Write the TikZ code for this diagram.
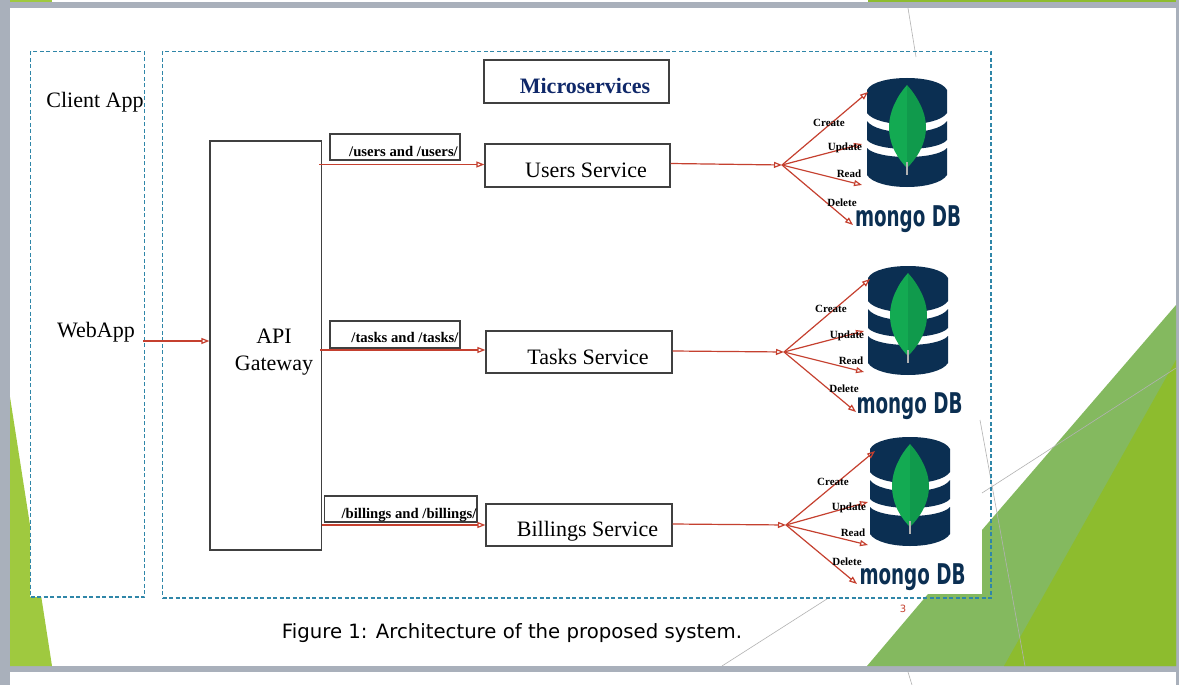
\documentclass[tikz,border=0pt]{standalone}
\usepackage{fontspec}
\setmainfont{Liberation Serif}
\newfontfamily\captionfont{DejaVu Sans}
\newfontfamily\logofont{DejaVu Sans}
\usetikzlibrary{arrows.meta,positioning}
\definecolor{framegray}{HTML}{A9B0BB}
\definecolor{limegreen}{HTML}{9FC93F}
\definecolor{softgreen}{HTML}{84B95F}
\definecolor{deepgreen}{HTML}{8DBC2E}
\definecolor{dashblue}{HTML}{2F86A8}
\definecolor{flowred}{HTML}{C5402F}
\definecolor{mongonavy}{HTML}{0B2F52}
\definecolor{leafgreen}{HTML}{13AA52}
\definecolor{leafdark}{HTML}{109A4C}
\tikzset{
  region/.style = {draw=dashblue, line width=1.1pt, dash pattern=on 4pt off 2.5pt},
  svcbox/.style = {draw=black!75, line width=1.2pt, fill=white, minimum width=185pt, minimum height=43pt, inner sep=0pt},
  routebox/.style = {draw=black!75, line width=1.2pt, fill=white, inner sep=0pt, minimum height=26pt},
  bigtext/.style = {font=\fontsize{22}{26}\selectfont, align=center, inner sep=0pt},
  routetext/.style = {font=\fontsize{14.7}{17}\selectfont\bfseries, inner sep=0pt},
  crudtext/.style = {font=\fontsize{11}{13}\selectfont\bfseries, inner sep=0pt},
  flow/.style = {-{Triangle[open,length=8pt,width=6pt]}, draw=flowred, line width=1.2pt},
  thinline/.style = {draw=black!30, line width=0.6pt},
  mongologo/.pic = {
    \fill[mongonavy] (0,12) .. controls (8,-4) and (72,-4) .. (80,12) -- (80,35) .. controls (70,50) and (10,50) .. (0,35) -- cycle;
    \fill[mongonavy] (0,43) .. controls (10,58) and (70,58) .. (80,43) -- (80,62) .. controls (70,74) and (10,74) .. (0,62) -- cycle;
    \fill[mongonavy] (0,70) .. controls (10,82) and (70,82) .. (80,70) -- (80,97) .. controls (70,113) and (10,113) .. (0,97) -- cycle;
    \fill[leafgreen] (40,7) .. controls (30,18) and (22,34) .. (22,49) .. controls (22,68) and (32,82) .. (40,90) -- cycle;
    \fill[leafdark] (40,7) .. controls (50,18) and (59,34) .. (59,49) .. controls (59,68) and (48,82) .. (40,90) -- cycle;
    \draw[black!30, line width=1.5pt] (40,84) -- (40,97);
  },
}
\newcommand{\mongoword}{\resizebox*{106pt}{27pt}{\logofont\bfseries mongo DB}}

\begin{document}
\begin{tikzpicture}[x=1pt,y=-1pt]
\useasboundingbox (0,0) rectangle (1179,685);

% Slide behind the figure
\fill[framegray] (0,0) rectangle (1179,685);
\fill[white] (10,8) rectangle (1176,666);
\fill[white] (10,672) rectangle (1176,685);
\fill[white] (52,0) rectangle (868,2);
\fill[limegreen] (10,0) rectangle (52,2);
\fill[deepgreen] (868,0) rectangle (1176,2);
\fill[limegreen] (10,397) -- (30,525) -- (30,597) -- (41.3,597) -- (52,666) -- (10,666) -- cycle;
\fill[softgreen] (867,666) -- (928,594) -- (982,594) -- (982,530) -- (1176,305) -- (1176,666) -- cycle;
\fill[deepgreen] (1004,666) -- (1176,360) -- (1176,666) -- cycle;
\draw[thinline] (908,8) -- (916,57);
\draw[thinline] (1176,368) -- (982,493);
\draw[thinline] (980,420) -- (1025,666);
\draw[thinline] (722,666) -- (830,597);
\draw[thinline] (908,672) -- (912,685);

% Regions
\node[region, minimum width=114pt, minimum height=545.5pt, inner sep=0pt] (client) at (87.5,324.25) {};
\node[region, minimum width=828.5pt, minimum height=546.5pt, inner sep=0pt] (micro) at (576.75,324.75) {};

% Nodes
\node[bigtext] (clientapp) at (95,102) {Client App};
\node[bigtext] (webapp) at (96,332) {WebApp};
\node[svcbox] (title) at (576.5,81.5) {};
\node[font=\fontsize{22}{26}\selectfont\bfseries, text={rgb,255:red,15;green,40;blue,105}, inner sep=0pt] (titletext) at (585,86) {Microservices};
\node[svcbox, minimum width=111.5pt, minimum height=409pt] (gateway) at (265.75,345.5) {};
\node[bigtext] (gatewaytext) at (274,352.5) {API\\[1pt]Gateway};
\node[svcbox] (users) at (577.5,165.5) {};
\node[svcbox, minimum width=186pt, minimum height=42pt] (tasks) at (579,352) {};
\node[svcbox, minimum width=186pt, minimum height=42pt] (billings) at (579,525) {};
\node[bigtext] (userstext) at (586,170.5) {Users Service};
\node[bigtext] (taskstext) at (588,356.5) {Tasks Service};
\node[bigtext] (billingstext) at (587.5,531) {Billings Service};
\node[routebox, minimum width=130pt] (usersroute) at (395,147) {};
\node[routebox, minimum width=130pt, minimum height=27pt] (tasksroute) at (395,334.5) {};
\node[routebox, minimum width=152.5pt] (billingsroute) at (400.75,509) {};
\node[routetext] (usersroutetext) at (403.5,151.5) {/users and /users/};
\node[routetext] (tasksroutetext) at (405,337.5) {/tasks and /tasks/};
\node[routetext] (billingsroutetext) at (409,515) {/billings and /billings/};

% Logos
\pic at (867,78) {mongologo};
\pic at (868,266) {mongologo};
\pic at (870,437) {mongologo};
\node[mongonavy, inner sep=0pt] (worda) at (908,219) {\mongoword};
\node[mongonavy, inner sep=0pt] (wordb) at (909.5,406) {\mongoword};
\node[mongonavy, inner sep=0pt] (wordc) at (912.5,577) {\mongoword};

% Arrow ends
\coordinate (webout) at (143,341);
\coordinate (huba) at (782,165);
\coordinate (hubb) at (784,352);
\coordinate (hubc) at (786,525);
\coordinate (createa) at (868,92);
\coordinate (updatea) at (862,144);
\coordinate (reada) at (862,185);
\coordinate (deletea) at (853,225);
\coordinate (createb) at (870,279);
\coordinate (updateb) at (864,331);
\coordinate (readb) at (864,372);
\coordinate (deleteb) at (856,412);
\coordinate (createc) at (875,451);
\coordinate (updatec) at (868,502);
\coordinate (readc) at (868,545);
\coordinate (deletec) at (857,584);

% Arrows
\draw[flow] (webout) -- (webout -| gateway.west);
\draw[flow] ([xshift=-3pt,yshift=1pt]gateway.east |- users.west) -- ([yshift=1pt]users.west);
\draw[flow] ([xshift=-2pt,yshift=2pt]gateway.east |- tasks.west) -- ([yshift=2pt]tasks.west);
\draw[flow] (gateway.east |- billings.west) -- (billings.west);
\draw[flow] ([yshift=2pt]users.east) -- (huba);
\draw[flow] ([yshift=1pt]tasks.east) -- (hubb);
\draw[flow] ([yshift=1pt]billings.east) -- (hubc);
\draw[flow] (huba) -- (createa);
\draw[flow] (huba) -- (updatea);
\draw[flow] (huba) -- (reada);
\draw[flow] (huba) -- (deletea);
\draw[flow] (hubb) -- (createb);
\draw[flow] (hubb) -- (updateb);
\draw[flow] (hubb) -- (readb);
\draw[flow] (hubb) -- (deleteb);
\draw[flow] (hubc) -- (createc);
\draw[flow] (hubc) -- (updatec);
\draw[flow] (hubc) -- (readc);
\draw[flow] (hubc) -- (deletec);

% Arrow labels
\node[crudtext] (createlabela) at (829,122.5) {Create};
\node[crudtext] (updatelabela) at (845,147.5) {Update};
\node[crudtext] (readlabela) at (849,173.5) {Read};
\node[crudtext] (deletelabela) at (842,202.5) {Delete};
\node[crudtext] (createlabelb) at (831,308.5) {Create};
\node[crudtext] (updatelabelb) at (847,335.5) {Update};
\node[crudtext] (readlabelb) at (851,360.5) {Read};
\node[crudtext] (deletelabelb) at (844,388.5) {Delete};
\node[crudtext] (createlabelc) at (833,481.5) {Create};
\node[crudtext] (updatelabelc) at (849,507.5) {Update};
\node[crudtext] (readlabelc) at (853,532.5) {Read};
\node[crudtext] (deletelabelc) at (847,561.5) {Delete};

% Caption and slide number
\node[font=\captionfont\fontsize{19.7}{23}\selectfont, inner sep=0pt] (caption) at (512,633.5) {Figure 1: Architecture of the proposed system.};
\node[font=\captionfont\fontsize{10}{12}\selectfont, text=flowred, inner sep=0pt] (slidenum) at (903,609) {3};

\end{tikzpicture}
\end{document}
